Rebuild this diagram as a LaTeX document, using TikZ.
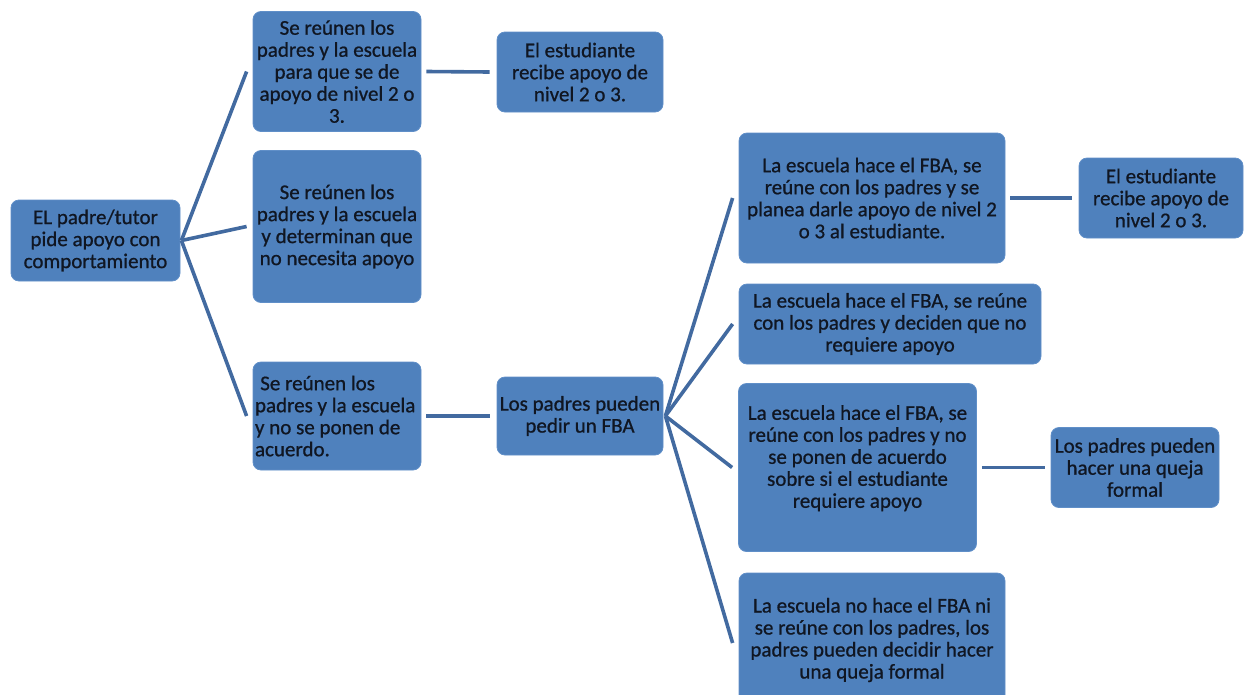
\documentclass[tikz,border=0pt]{standalone}
\usepackage{fontspec}
\setmainfont{Carlito}
\newfontface\boxfont{Carlito}[RawFeature={embolden=0.8}]
\definecolor{boxfill}{RGB}{79,129,189}
\definecolor{boxedge}{RGB}{96,143,200}
\definecolor{linkcol}{RGB}{66,106,160}
\definecolor{txtcol}{RGB}{16,22,34}
\tikzset{
  box/.style={draw=boxedge, line width=0.8pt, fill=boxfill, rounded corners=8pt,
    inner sep=0pt, align=center, text=txtcol,
    font=\boxfont\fontsize{21}{22}\selectfont},
  link/.style={draw=linkcol, line width=3.6pt},
}
\begin{document}
\begin{tikzpicture}[x=1pt,y=-1pt]
\useasboundingbox (0,0) rectangle (1244,694);
\clip (0,0) rectangle (1244,694);
\node[box, minimum width=169, minimum height=81] (root) at (95.5,240.5) {EL padre/tutor\\pide apoyo con\\comportamiento};
\node[box, minimum width=168, minimum height=120] (a1) at (337,71.5) {Se reúnen los\\padres y la escuela\\para que se de\\apoyo de nivel 2 o\\3.};
\node[box, minimum width=168, minimum height=152] (a2) at (337,226.5) {Se reúnen los\\padres y la escuela\\y determinan que\\no necesita apoyo};
\node[box, minimum width=168, minimum height=108, align=flush left, text width=164] (a3) at (337,416) {\hspace{0.25em}Se reúnen los\\padres y la escuela\\y no se ponen de\\acuerdo.};
\node[box, minimum width=166, minimum height=80] (b1) at (580,72) {El estudiante\\recibe apoyo de\\nivel 2 o 3.};
\node[box, minimum width=166, minimum height=78] (b2) at (580,416) {Los padres pueden\\pedir un FBA};
\node[box, minimum width=266, minimum height=130] (c1) at (872,198) {La escuela hace el FBA, se\\reúne con los padres y se\\planea darle apoyo de nivel 2\\o 3 al estudiante.};
\node[box, minimum width=302, minimum height=80] (c2) at (890,324) {La escuela hace el FBA, se reúne\\con los padres y deciden que no\\requiere apoyo};
\node[box, minimum width=238, minimum height=168] (c3) at (857.5,467.5) {La escuela hace el FBA, se\\reúne con los padres y no\\se ponen de acuerdo\\sobre si el estudiante\\requiere apoyo\\\mbox{}};
\node[box, minimum width=266, minimum height=134] (c4) at (872,640) {La escuela no hace el FBA ni\\se reúne con los padres, los\\padres pueden decidir hacer\\una queja formal};
\node[box, minimum width=164, minimum height=80] (d1) at (1161,198) {El estudiante\\recibe apoyo de\\nivel 2 o 3.};
\node[box, minimum width=168, minimum height=80] (d2) at (1135,467.5) {Los padres pueden\\hacer una queja\\formal};
% connectors
\draw[link] ([xshift=1]root.east) -- ([xshift=-6]a1.west);
\draw[link] ([xshift=1]root.east) -- ([xshift=-6]a2.west);
\draw[link] ([xshift=1]root.east) -- ([xshift=-6]a3.west);
\draw[link] ([xshift=5]a1.east) -- ([xshift=-7]b1.west);
\draw[link] ([xshift=5]a3.east) -- ([xshift=-7]b2.west);
\draw[link] ([xshift=2]b2.east) -- ([xshift=-6]c1.west);
\draw[link] ([xshift=2]b2.east) -- ([xshift=-6]c2.west);
\draw[link] ([xshift=2]b2.east) -- ([xshift=-6]c3.west);
\draw[link] ([xshift=2]b2.east) -- ([xshift=-6,yshift=-3]c4.west);
\draw[link] ([xshift=5]c1.east) -- ([xshift=-7]d1.west);
\draw[link] ([xshift=5]c3.east) -- ([xshift=-6]d2.west);
\end{tikzpicture}
\end{document}
